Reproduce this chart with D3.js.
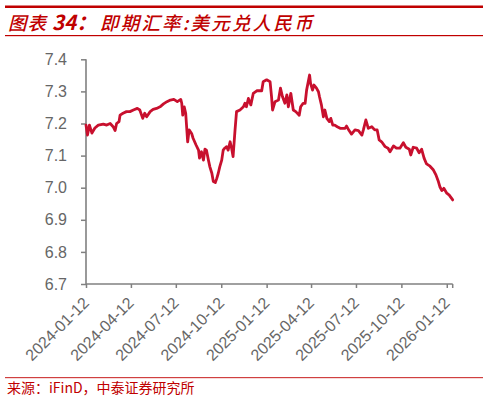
<!DOCTYPE html>
<html>
<head>
<meta charset="utf-8">
<script src="https://cdn.jsdelivr.net/npm/d3@7/dist/d3.min.js"></script>
<style>
  html, body { margin: 0; padding: 0; background: #fff; }
  svg { display: block; }
</style>
</head>
<body>
<svg id="chart" width="488" height="401"></svg>
<script>
// ---- data ----
const dates = [
  "2024-01-12","2024-01-15","2024-01-19","2024-01-24","2024-01-30","2024-02-06","2024-02-16","2024-02-23","2024-03-01","2024-03-07",
  "2024-03-11","2024-03-14","2024-03-19","2024-03-21","2024-03-27","2024-04-03","2024-04-10","2024-04-17","2024-04-25","2024-04-30",
  "2024-05-06","2024-05-10","2024-05-14","2024-05-21","2024-05-27","2024-06-03","2024-06-10","2024-06-17","2024-06-24","2024-07-01",
  "2024-07-08","2024-07-15","2024-07-22","2024-07-24","2024-07-26","2024-07-29","2024-08-01","2024-08-05","2024-08-08","2024-08-13",
  "2024-08-16","2024-08-22","2024-08-27","2024-08-29","2024-09-02","2024-09-06","2024-09-09","2024-09-12","2024-09-16","2024-09-19",
  "2024-09-23","2024-09-26","2024-09-30","2024-10-03","2024-10-06","2024-10-09","2024-10-13","2024-10-16","2024-10-19","2024-10-23",
  "2024-10-26","2024-10-30","2024-11-02","2024-11-05","2024-11-09","2024-11-12","2024-11-19","2024-11-26","2024-11-29","2024-12-02",
  "2024-12-06","2024-12-11","2024-12-16","2024-12-23","2025-01-02","2025-01-05","2025-01-12","2025-01-19","2025-01-22","2025-01-24",
  "2025-01-29","2025-02-05","2025-02-09","2025-02-13","2025-02-18","2025-02-22","2025-02-25","2025-03-02","2025-03-07","2025-03-12",
  "2025-03-19","2025-03-22","2025-03-27","2025-03-31","2025-04-03","2025-04-09","2025-04-11","2025-04-15","2025-04-18","2025-04-23",
  "2025-04-27","2025-04-29","2025-05-03","2025-05-07","2025-05-10","2025-05-14","2025-05-19","2025-05-22","2025-05-26","2025-05-30",
  "2025-06-04","2025-06-10","2025-06-20","2025-06-23","2025-06-28","2025-07-03","2025-07-10","2025-07-17","2025-07-24","2025-07-27",
  "2025-08-01","2025-08-06","2025-08-13","2025-08-19","2025-08-24","2025-08-28","2025-09-02","2025-09-09","2025-09-15","2025-09-19",
  "2025-09-26","2025-10-02","2025-10-09","2025-10-16","2025-10-21","2025-10-28","2025-10-31","2025-11-05","2025-11-12","2025-11-17",
  "2025-11-22","2025-11-27","2025-12-02","2025-12-09","2025-12-16","2025-12-21","2025-12-26","2025-12-29","2026-01-02","2026-01-06",
  "2026-01-12","2026-01-17","2026-01-24"
];
const usdcny = [
  7.195,7.164,7.195,7.170,7.186,7.195,7.198,7.195,7.200,7.190,
  7.178,7.200,7.206,7.226,7.232,7.237,7.237,7.242,7.247,7.242,
  7.216,7.232,7.221,7.237,7.244,7.247,7.252,7.261,7.268,7.273,
  7.275,7.268,7.275,7.263,7.226,7.252,7.232,7.143,7.180,7.169,
  7.154,7.133,7.117,7.092,7.112,7.086,7.120,7.117,7.086,7.065,
  7.045,7.019,7.016,7.029,7.045,7.065,7.086,7.117,7.123,7.128,
  7.117,7.143,7.123,7.097,7.180,7.237,7.242,7.252,7.263,7.252,
  7.278,7.258,7.294,7.302,7.302,7.330,7.336,7.330,7.283,7.242,
  7.268,7.273,7.310,7.284,7.263,7.289,7.252,7.294,7.242,7.237,
  7.226,7.252,7.263,7.263,7.304,7.351,7.325,7.304,7.320,7.310,
  7.299,7.284,7.258,7.221,7.242,7.216,7.206,7.216,7.195,7.195,
  7.190,7.185,7.185,7.192,7.178,7.167,7.180,7.178,7.164,7.180,
  7.211,7.185,7.190,7.180,7.180,7.149,7.143,7.128,7.123,7.112,
  7.130,7.123,7.123,7.140,7.126,7.120,7.102,7.126,7.123,7.109,
  7.120,7.092,7.074,7.067,7.055,7.040,7.019,7.003,6.991,6.998,
  6.983,6.977,6.962
];
const xTickLabels = ["2024-01-12","2024-04-12","2024-07-12","2024-10-12","2025-01-12","2025-04-12","2025-07-12","2025-10-12","2026-01-12"];
const yTicks = [6.7, 6.8, 6.9, 7.0, 7.1, 7.2, 7.3, 7.4];
const titleParts = ["图表", "34：", "即期汇率:美元兑人民币"];
const sourceText = "来源：iFinD，中泰证券研究所";

// ---- drawing ----
(function () {
const svg = d3.select("#chart");
const RED = "#C00000";
const LINE = "#C8102E";
const AXIS = "#808080";
const LABEL = "#666666";

const parse = d3.timeParse("%Y-%m-%d");
const data = dates.map((d, i) => ({ date: parse(d), value: usdcny[i] }));

const mLeft = 86, mRight = 452.7, mTop = 59.3, mBottom = 284;

const x = d3.scaleTime()
  .domain([parse("2024-01-12"), parse("2026-01-24")])
  .range([mLeft, mRight]);
const y = d3.scaleLinear().domain([6.7, 7.4]).range([mBottom, mTop]);

// header lines
svg.append("rect").attr("x", 5).attr("y", 5.5).attr("width", 478).attr("height", 2.5).attr("fill", RED);
svg.append("rect").attr("x", 5).attr("y", 35).attr("width", 478).attr("height", 1.2).attr("fill", RED);

// title
const title = svg.append("text")
  .attr("y", 30)
  .attr("fill", RED)
  .attr("font-family", "'Noto Sans CJK SC', sans-serif")
  .attr("font-size", 18.5)
  .attr("font-weight", 500)
  .attr("font-style", "italic");
title.append("tspan").attr("x", 8).attr("letter-spacing", 1).text(titleParts[0]);
title.append("tspan").attr("x", 52).attr("font-weight", "bold").attr("font-size", 20.5).text(titleParts[1]);
title.append("tspan").attr("x", 100).attr("letter-spacing", 2.2).text(titleParts[2]);

// y axis
const yAxis = d3.axisLeft(y).tickValues(yTicks).tickSize(5).tickPadding(14).tickFormat(d3.format(".1f"));
const gy = svg.append("g").attr("transform", `translate(${mLeft},0)`).call(yAxis);
gy.select(".domain").remove();
gy.selectAll(".tick line").attr("stroke", AXIS).attr("stroke-width", 1.5);
gy.selectAll(".tick text")
  .attr("fill", LABEL)
  .attr("font-family", "'Liberation Sans', Arial, sans-serif")
  .attr("font-size", 16);
svg.append("line").attr("x1", mLeft).attr("x2", mLeft).attr("y1", mTop).attr("y2", mBottom)
  .attr("stroke", AXIS).attr("stroke-width", 1.6);

// x axis
const xAxis = d3.axisBottom(x).tickValues(xTickLabels.map(parse)).tickSize(4).tickFormat("");
const gx = svg.append("g").attr("transform", `translate(0,${mBottom})`).call(xAxis);
gx.select(".domain").remove();
gx.selectAll(".tick line").attr("stroke", AXIS).attr("stroke-width", 1.5);
svg.append("line").attr("x1", mLeft).attr("x2", mRight).attr("y1", mBottom).attr("y2", mBottom)
  .attr("stroke", AXIS).attr("stroke-width", 1.6);
svg.append("line").attr("x1", mRight).attr("x2", mRight).attr("y1", mBottom).attr("y2", mBottom + 4)
  .attr("stroke", AXIS).attr("stroke-width", 1.5);

svg.append("g").selectAll("text").data(xTickLabels).join("text")
  .attr("transform", d => `translate(${x(parse(d))},${mBottom + 16}) rotate(-45)`)
  .attr("text-anchor", "end")
  .attr("dy", "0.35em")
  .attr("fill", LABEL)
  .attr("font-family", "'Liberation Sans', Arial, sans-serif")
  .attr("font-size", 16)
  .text(d => d);

// series line
const line = d3.line().x(d => x(d.date)).y(d => y(d.value));
svg.append("path").datum(data)
  .attr("d", line)
  .attr("fill", "none")
  .attr("stroke", LINE)
  .attr("stroke-width", 2.8)
  .attr("stroke-linejoin", "round")
  .attr("stroke-linecap", "round");

// footer
svg.append("rect").attr("x", 5).attr("y", 377).attr("width", 478).attr("height", 1.2).attr("fill", "#D04040");
svg.append("text")
  .attr("x", 7).attr("y", 393)
  .attr("fill", RED)
  .attr("font-family", "'Noto Sans CJK SC', sans-serif")
  .attr("font-size", 14)
  .text(sourceText);
})();
</script>
</body>
</html>
